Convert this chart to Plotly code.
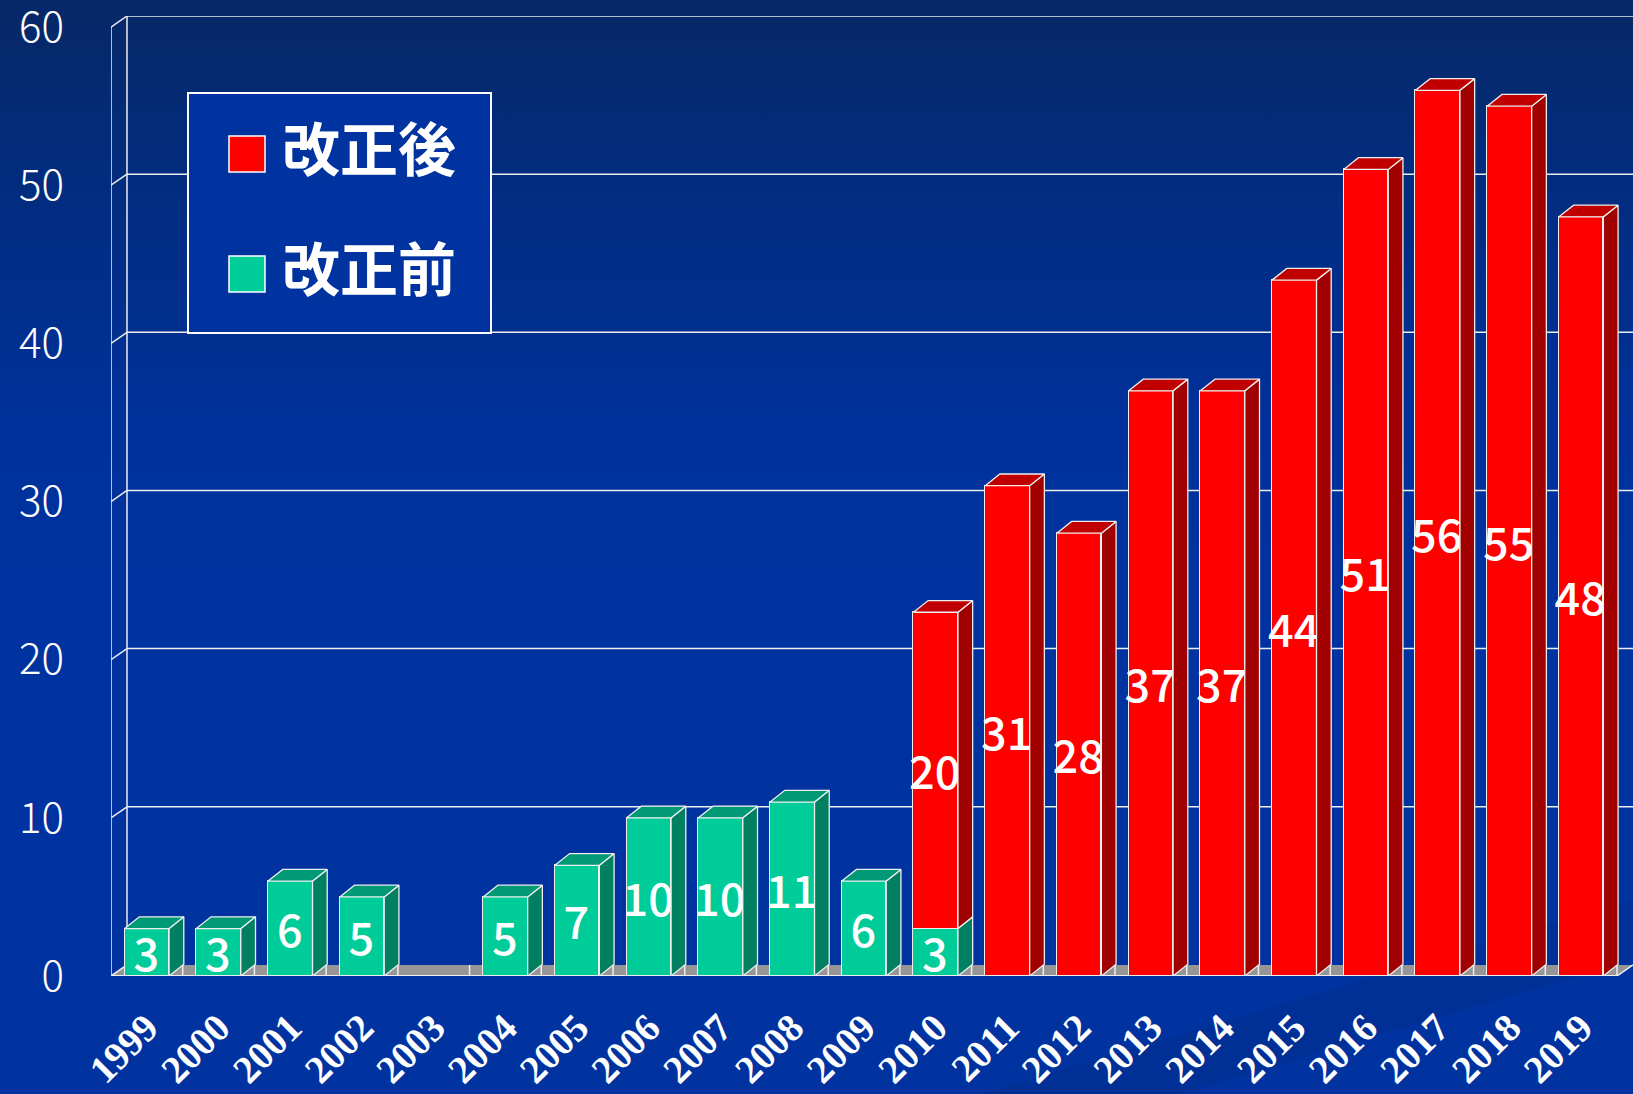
import base64
import plotly.graph_objects as go

# ---------------- data ----------------
years = ["1999", "2000", "2001", "2002", "2003", "2004", "2005", "2006", "2007", "2008",
         "2009", "2010", "2011", "2012", "2013", "2014", "2015", "2016", "2017", "2018", "2019"]
before_values = [3, 3, 6, 5, 0, 5, 7, 10, 10, 11, 6, 3, 0, 0, 0, 0, 0, 0, 0, 0, 0]   # 改正前
after_values = [0, 0, 0, 0, 0, 0, 0, 0, 0, 0, 0, 20, 31, 28, 37, 37, 44, 51, 56, 55, 48]  # 改正後
y_ticks = [0, 10, 20, 30, 40, 50, 60]
series_names = ["改正後", "改正前"]

# ---------------- style ----------------
W, H = 1633, 1094
ML, MR, MT, MB = 111, 0, 16, 118
PW, PH = W - ML - MR, H - MT - MB
DXW, DYW = 0.223, 0.70        # wall / floor depth (data units)
DXB, DYB = 0.205, 0.74        # bar depth
BAR_W = 0.62
n = len(years)
xs = list(range(n))
XMIN, XMAX = -0.5, n - 0.5
YMAX = max(y_ticks)
Y_TOP = YMAX + DYW

GREEN, GREEN_SIDE, GREEN_TOP = "#00CC99", "#008060", "#009975"
RED, RED_SIDE, RED_TOP = "#FF0000", "#A00000", "#C00000"
EDGE = "#EEEEEE"
FLOOR = "#969696"


def px_x(px):
    return (px - ML) / PW


def px_y(py):
    return (H - MB - py) / PH


# ---------------- background gradient (svg image) ----------------
svg = f'''<svg xmlns="http://www.w3.org/2000/svg" width="{W}" height="{H}" viewBox="0 0 {W} {H}" preserveAspectRatio="none">
<defs><linearGradient id="g" x1="0" y1="0" x2="0" y2="1">
<stop offset="0" stop-color="#072867"/><stop offset="0.15" stop-color="#022c7c"/>
<stop offset="0.38" stop-color="#00319a"/><stop offset="0.55" stop-color="#0033A0"/>
<stop offset="1" stop-color="#0033A0"/></linearGradient></defs>
<rect width="{W}" height="{H}" fill="url(#g)"/>
<polygon points="980,1094 1633,900 1633,960 1180,1094" fill="#00206a" fill-opacity="0.18"/>
</svg>'''
bg_src = "data:image/svg+xml;base64," + base64.b64encode(svg.encode()).decode()

fig = go.Figure()

# ---------------- front faces (bars) ----------------
def labels(vals):
    return [str(v) if v else "" for v in vals]

for vals, color, name in [(before_values, GREEN, series_names[1]), (after_values, RED, series_names[0])]:
    fig.add_trace(go.Bar(
        x=xs, y=vals, width=BAR_W, name=name, showlegend=False,
        marker=dict(color=color, line=dict(color=EDGE, width=1.5)),
        text=labels(vals), textposition="inside", insidetextanchor="middle",
        textangle=0, constraintext="none",
        textfont=dict(family="Noto Sans CJK JP", size=45, color="white", weight=500),
        hoverinfo="skip",
    ))

# ---------------- side and top faces ----------------
def faces(bottoms, heights, tops_visible):
    sx, sy, tx, ty = [], [], [], []
    for i, (b, h, t) in enumerate(zip(bottoms, heights, tops_visible)):
        if h <= 0:
            continue
        xl, xr = i - BAR_W / 2, i + BAR_W / 2
        y0, y1 = b, b + h
        sx += [xr, xr + DXB, xr + DXB, xr, xr, None]
        sy += [y0, y0 + DYB, y1 + DYB, y1, y0, None]
        if t:
            tx += [xl, xl + DXB, xr + DXB, xr, xl, None]
            ty += [y1, y1 + DYB, y1 + DYB, y1, y1, None]
    return sx, sy, tx, ty

g_sx, g_sy, g_tx, g_ty = faces([0] * n, before_values, [a == 0 for a in after_values])
r_sx, r_sy, r_tx, r_ty = faces(before_values, after_values, [True] * n)

for fx, fy, col in [(g_sx, g_sy, GREEN_SIDE), (g_tx, g_ty, GREEN_TOP),
                    (r_sx, r_sy, RED_SIDE), (r_tx, r_ty, RED_TOP)]:
    fig.add_trace(go.Scatter(
        x=fx, y=fy, mode="lines", fill="toself", fillcolor=col,
        line=dict(color=EDGE, width=1.3), showlegend=False, hoverinfo="skip",
    ))

# ---------------- walls, floor, gridlines (shapes below traces) ----------------
shapes = []
line_style = dict(color=EDGE, width=1.5)
shapes.append(dict(type="path", xref="x", yref="y", layer="below",
                   path=f"M {XMIN},0 L {XMAX},0 L {XMAX + DXW},{DYW} L {XMIN + DXW},{DYW} Z",
                   fillcolor=FLOOR, line=dict(width=0)))
for k in range(n):
    xb = k + 0.5
    shapes.append(dict(type="line", xref="x", yref="y", layer="below",
                       x0=xb, x1=xb, y0=0, y1=DYW, line=line_style))
shapes.append(dict(type="line", xref="x", yref="y", layer="below",
                   x0=XMIN, x1=XMAX, y0=0, y1=0, line=dict(color=EDGE, width=2)))
shapes.append(dict(type="line", xref="x", yref="y", layer="below",
                   x0=XMAX, x1=XMAX + DXW, y0=0, y1=DYW, line=line_style))
shapes.append(dict(type="line", xref="x", yref="y", layer="below",
                   x0=XMIN, x1=XMIN, y0=0, y1=YMAX, line=line_style))
shapes.append(dict(type="line", xref="x", yref="y", layer="below",
                   x0=XMIN + DXW, x1=XMIN + DXW, y0=DYW, y1=YMAX + DYW, line=line_style))
for v in y_ticks:
    shapes.append(dict(type="line", xref="x", yref="y", layer="below",
                       x0=XMIN, x1=XMIN + DXW, y0=v, y1=v + DYW, line=line_style))
    if v > 0:
        shapes.append(dict(type="line", xref="x", yref="y", layer="below",
                           x0=XMIN + DXW, x1=XMAX + DXW, y0=v + DYW, y1=v + DYW, line=line_style))

# ---------------- custom legend ----------------
shapes.append(dict(type="rect", xref="paper", yref="paper", layer="above",
                   x0=px_x(188), x1=px_x(491), y0=px_y(333), y1=px_y(93),
                   fillcolor="#0033A0", line=dict(color="white", width=2)))
legend_rows = [(series_names[0], RED, 154), (series_names[1], GREEN, 274)]
annotations = []
for name, col, cy in legend_rows:
    shapes.append(dict(type="rect", xref="paper", yref="paper", layer="above",
                       x0=px_x(229), x1=px_x(265), y0=px_y(cy + 18), y1=px_y(cy - 18),
                       fillcolor=col, line=dict(color="white", width=1.5)))
    annotations.append(dict(xref="paper", yref="paper", x=px_x(280), y=px_y(cy - 8),
                            xanchor="left", yanchor="middle", showarrow=False, text=name,
                            font=dict(family="Noto Sans CJK JP", size=58, color="white", weight="bold")))

fig.update_layout(
    width=W, height=H,
    margin=dict(l=ML, r=MR, t=MT, b=MB, pad=0, autoexpand=False),
    barmode="stack", bargap=0,
    paper_bgcolor="#0033A0", plot_bgcolor="rgba(0,0,0,0)",
    images=[dict(source=bg_src, xref="paper", yref="paper",
                 x=-ML / PW, y=1 + MT / PH, sizex=W / PW, sizey=H / PH,
                 xanchor="left", yanchor="top", sizing="stretch", layer="below")],
    shapes=shapes, annotations=annotations,
    showlegend=False,
    xaxis=dict(range=[XMIN, XMAX + DXW], tickvals=xs, ticktext=years, tickangle=-45,
               showgrid=False, zeroline=False, showline=False, ticks="", automargin=False,
               ticklabelstandoff=20, ticklabeloverflow="allow",
               tickfont=dict(family="Liberation Serif", size=39, color="white", weight="bold")),
    yaxis=dict(range=[0, Y_TOP], tickvals=y_ticks, showgrid=False, zeroline=False,
               showline=False, ticks="", automargin=False, ticklabelstandoff=46,
               ticklabeloverflow="allow",
               tickfont=dict(family="Noto Sans CJK JP", size=42, color="white", weight=300)),
)

fig.write_html("out.html", config={"displayModeBar": False},
               post_script="document.body.style.margin='0';document.body.style.overflow='hidden';")
